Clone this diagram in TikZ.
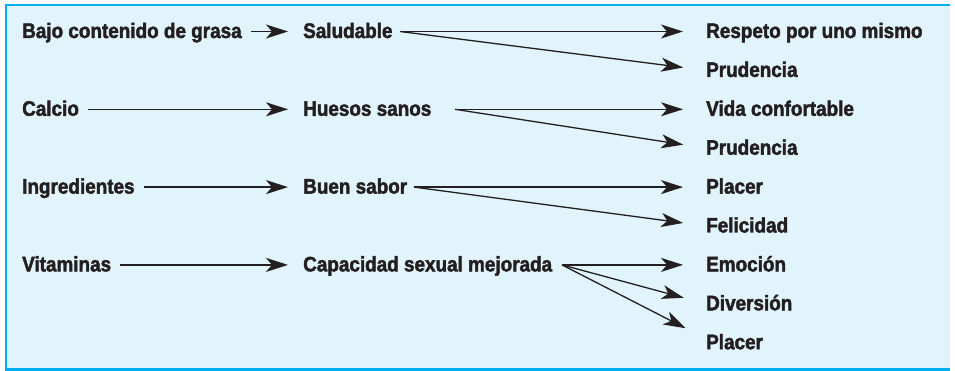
\documentclass[tikz,border=0pt]{standalone}
\usepackage{fontspec}
\setmainfont{Liberation Sans}[FakeStretch=0.9,BoldFeatures={FakeBold=2}]
\usetikzlibrary{arrows.meta}
\definecolor{boxfill}{RGB}{225,243,251}
\definecolor{boxline}{RGB}{0,174,239}
\definecolor{ink}{RGB}{35,31,32}
\begin{document}
\begin{tikzpicture}[x=1pt,y=-1pt,
  lab/.style={anchor=base west,inner sep=0pt,text height=16pt,text depth=3pt,
    font=\fontsize{21}{24}\selectfont\bfseries,text=ink},
  arr/.style={draw=ink,line width=1.3pt,-{Stealth[length=22pt,width=14pt,inset=6pt]}},
  lft/.style={arr,shorten <=9pt,shorten >=15pt},
  rgt/.style={arr,shorten >=23pt}]
\useasboundingbox (0,0) rectangle (955,371);
\fill[boxfill] (6,5) rectangle (950,369.5);
\draw[boxline,line width=2.2pt] (950,5) -- (6,5) -- (6,369.5) -- (950,369.5);
% left column
\node[lab] (bajo) at (22,38) {Bajo contenido de grasa};
\node[lab] (calcio) at (22,115.8) {Calcio};
\node[lab] (ingr) at (22,193.6) {Ingredientes};
\node[lab] (vit) at (22,271.4) {Vitaminas};
% middle column
\node[lab] (salud) at (303,38) {Saludable};
\node[lab] (hues) at (303,115.8) {Huesos sanos};
\node[lab] (buen) at (303,193.6) {Buen sabor};
\node[lab] (cap) at (303,271.4) {Capacidad sexual mejorada};
% right column
\node[lab] (resp) at (706,38) {Respeto por uno mismo};
\node[lab] (prud1) at (706,76.9) {Prudencia};
\node[lab] (vida) at (706,115.8) {Vida confortable};
\node[lab] (prud2) at (706,154.7) {Prudencia};
\node[lab] (plac1) at (706,193.6) {Placer};
\node[lab] (feli) at (706,232.5) {Felicidad};
\node[lab] (emo) at (706,271.4) {Emoción};
\node[lab] (div) at (706,310.3) {Diversión};
\node[lab] (plac2) at (706,349.2) {Placer};
% start points of the fan-out arrows
\coordinate (s1) at (400,31.5);
\coordinate (s2) at (455,109.3);
\coordinate (s3) at (414,187.1);
\coordinate (s4) at (562,264.9);
% left arrows
\draw[lft] (bajo) -- (salud);
\draw[lft] (calcio) -- (hues);
\draw[lft] (ingr) -- (buen);
\draw[lft] (vit) -- (cap);
% right arrows
\draw[rgt] (s1) -- (resp.west);
\draw[rgt] (s1) -- (prud1.west);
\draw[rgt] (s2) -- (vida.west);
\draw[rgt] (s2) -- (prud2.west);
\draw[rgt] (s3) -- (plac1.west);
\draw[rgt] (s3) -- (feli.west);
\draw[rgt] (s4) -- (emo.west);
\draw[rgt] (s4) -- (div.west);
\draw[rgt] (s4) -- ([yshift=4pt]plac2.west);
\end{tikzpicture}
\end{document}
